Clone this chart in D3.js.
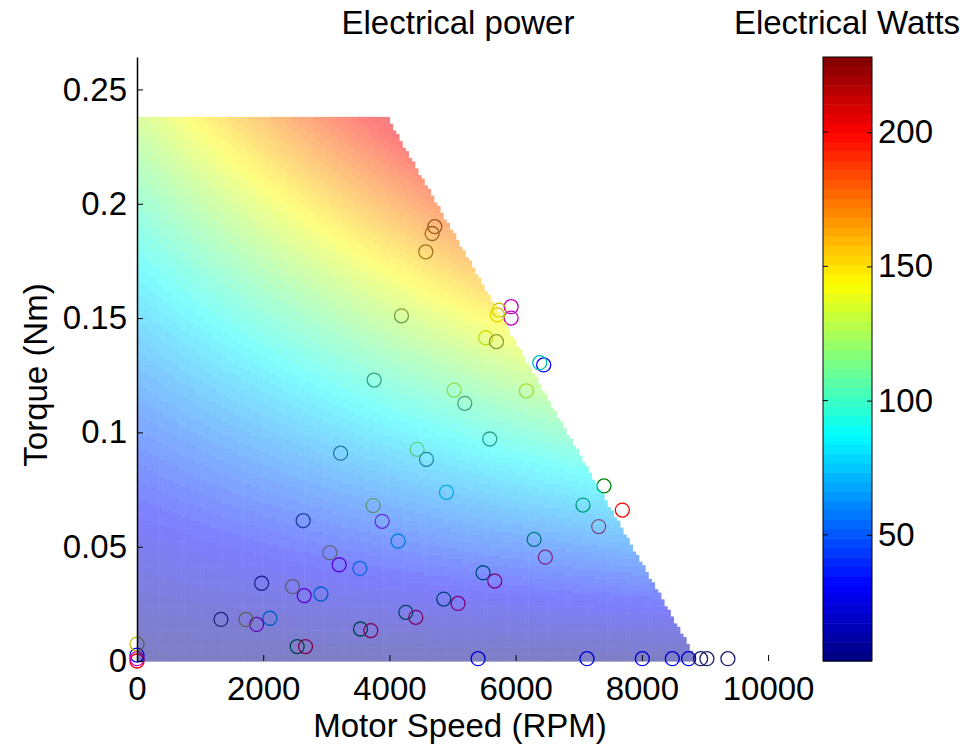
<!DOCTYPE html>
<html>
<head>
<meta charset="utf-8">
<script src="https://cdnjs.cloudflare.com/ajax/libs/d3/7.8.5/d3.min.js"></script>
<style>
    body { margin: 0; background: #fff; }
    svg text { font-family: "Liberation Sans", Arial, sans-serif; fill: #000; }
</style>
</head>
<body>
<div id="chart"></div>
<script>

// measured operating points, one pair of arrays per plotted series
const blueSpeed = [0, 5405, 7131, 8008, 8483, 8741, 6445];
const blueTorque = [0.0026, 0.001, 0.001, 0.001, 0.001, 0.001, 0.1295];

const greenSpeed = [2538, 3542, 4260, 4861, 5484, 6292, 7068, 7400];
const greenTorque = [0.0063, 0.0140, 0.0213, 0.0271, 0.0386, 0.0532, 0.0682, 0.0766];

const redSpeed = [0, 2671, 3705, 4418, 5088, 5669, 6471, 7316, 7691];
const redTorque = [0, 0.0063, 0.0133, 0.0191, 0.0252, 0.0350, 0.0454, 0.0588, 0.0660];

const cyanSpeed = [2106, 2914, 3531, 4138, 4904, 6382];
const cyanTorque = [0.0187, 0.0293, 0.0405, 0.0525, 0.0738, 0.1305];

const magentaSpeed = [0, 1895, 2650, 3204, 3885, 5929, 5929];
const magentaTorque = [0.0010, 0.0160, 0.0286, 0.0421, 0.0611, 0.1550, 0.1500];

const yellowSpeed = [0, 1726, 2465, 3056, 3742, 4439, 5025, 5527, 5711, 5738, 6171];
const yellowTorque = [0.0074, 0.0182, 0.0325, 0.0474, 0.0680, 0.0926, 0.1185, 0.1414, 0.1514, 0.1535, 0.1182];

const greySpeed = [1330, 1975, 2633, 3226, 3758, 4587, 5194, 5590, 4191, 5696, 4577, 4677, 4719];
const greyTorque = [0.0182, 0.0340, 0.0614, 0.0909, 0.1229, 0.0882, 0.1127, 0.0971, 0.1510, 0.1397, 0.1790, 0.1870, 0.1900];

const darkSpeed = [8931, 9031, 9364];
const darkTorque = [0.001, 0.001, 0.001];

// MATLAB default line colour order (+ a dark series)
const seriesColors = ["#0000ff", "#008000", "#ff0000", "#00bfbf", "#bf00bf", "#bfbf00", "#404040", "#1c1c6a"];

// motor envelope and electrical power model used for the surface
const maxTorque = 0.238;
const cornerSpeed = 3960;
const freeSpeed = 8880;
const idleWatts = 5;
const torqueWatts = 370;
const torqueSqWatts = 600;
const speedTorqueWatts = 0.084;

// axis ticks
const xTicks = [0, 2000, 4000, 6000, 8000, 10000];
const yTicks = [0, 0.05, 0.1, 0.15, 0.2, 0.25];
const cbarTicks = [50, 100, 150, 200];
const cbarRange = [3, 228];

const width = 974, height = 746;
const svg = d3.select("#chart").append("svg")
    .attr("width", width)
    .attr("height", height);

const x = d3.scaleLinear().domain([0, 10500]).range([137, 799.6]);
const y = d3.scaleLinear().domain([0, 0.2642]).range([661, 57]);
const cScale = d3.scaleLinear().domain(cbarRange).range([661, 57]);

// jet colormap, 64 levels like MATLAB
function jet(t) {
    let clamp = v => Math.max(0, Math.min(1, v));
    return d3.rgb(255 * clamp(1.5 - Math.abs(4 * t - 3)),
                  255 * clamp(1.5 - Math.abs(4 * t - 2)),
                  255 * clamp(1.5 - Math.abs(4 * t - 1)));
}
function jetIndex(v) {
    let k = Math.floor((v - cbarRange[0]) / (cbarRange[1] - cbarRange[0]) * 64);
    k = Math.max(0, Math.min(63, k));
    return jet((k + 0.5) / 64).formatHex();
}

function torqueLimit(s) {
    if (s <= cornerSpeed) return maxTorque;
    return maxTorque * (freeSpeed - s) / (freeSpeed - cornerSpeed);
}

function power(s, t) {
    return idleWatts + torqueWatts * t + torqueSqWatts * t * t + speedTorqueWatts * t * s;
}

// points, drawn first so the translucent surface sits above them
let series = [
    [blueSpeed, blueTorque], [greenSpeed, greenTorque], [redSpeed, redTorque],
    [cyanSpeed, cyanTorque], [magentaSpeed, magentaTorque], [yellowSpeed, yellowTorque],
    [greySpeed, greyTorque], [darkSpeed, darkTorque]
];
let points = [];
series.forEach(function (sr, i) {
    sr[0].forEach(function (s, j) {
        points.push({speed: s, torque: sr[1][j], color: seriesColors[i]});
    });
});

svg.append("g").selectAll("circle")
    .data(points)
    .enter().append("circle")
    .attr("cx", d => x(d.speed))
    .attr("cy", d => y(d.torque))
    .attr("r", 7)
    .attr("fill", "none")
    .attr("stroke", d => d.color)
    .attr("stroke-width", 1.3);

// surface cells
const speedStep = 50;
const nRows = 159;
const torqueStep = maxTorque / nRows;
let cells = [];
for (let s = 0; s < freeSpeed; s += speedStep) {
    for (let r = 0; r < nRows; r++) {
        let t = r * torqueStep;
        let sc = s + speedStep / 2, tc = t + torqueStep / 2;
        if (tc <= torqueLimit(sc)) {
            cells.push({s: s, t: t, v: power(sc, tc)});
        }
    }
}

const cw = x(speedStep) - x(0);
const ch = y(0) - y(torqueStep);
svg.append("g")
    .attr("opacity", 0.5)
    .selectAll("rect")
    .data(cells)
    .enter().append("rect")
    .attr("x", d => x(d.s))
    .attr("y", d => y(d.t + torqueStep))
    .attr("width", cw + 0.6)
    .attr("height", ch + 0.6)
    .attr("fill", d => jetIndex(d.v));

// axes
const xAxis = d3.axisBottom(x)
    .tickValues(xTicks)
    .tickFormat(d3.format("d"))
    .tickSizeInner(-6)
    .tickSizeOuter(0)
    .tickPadding(16);
let gx = svg.append("g").attr("transform", "translate(0,661)").call(xAxis);
gx.select(".domain").remove();

const yAxis = d3.axisLeft(y)
    .tickValues(yTicks)
    .tickFormat(d => d === 0 ? "0" : String(+d.toFixed(2)))
    .tickSizeInner(-6)
    .tickSizeOuter(0)
    .tickPadding(10);
let gy = svg.append("g").attr("transform", "translate(137,0)").call(yAxis);
gy.select(".domain").attr("stroke-width", 1.5);

[gx, gy].forEach(function (g) {
    g.selectAll("text").attr("font-size", 33).attr("font-family", "Liberation Sans, Arial, sans-serif");
    g.selectAll(".tick line").attr("stroke", "#000");
});

// axis titles
svg.append("text")
    .attr("x", 458).attr("y", 34)
    .attr("text-anchor", "middle")
    .attr("font-size", 33)
    .text("Electrical power");

svg.append("text")
    .attr("x", 460).attr("y", 737)
    .attr("text-anchor", "middle")
    .attr("font-size", 33)
    .text("Motor Speed (RPM)");

svg.append("text")
    .attr("transform", "translate(47,375) rotate(-90)")
    .attr("text-anchor", "middle")
    .attr("font-size", 33)
    .text("Torque (Nm)");

// colorbar
const cbX = 823, cbW = 49;
const levels = d3.range(64);
const levelH = (cbarRange[1] - cbarRange[0]) / 64;
svg.append("g").selectAll("rect")
    .data(levels)
    .enter().append("rect")
    .attr("x", cbX)
    .attr("y", d => cScale(cbarRange[0] + (d + 1) * levelH))
    .attr("width", cbW)
    .attr("height", cScale(cbarRange[0]) - cScale(cbarRange[0] + levelH) + 0.5)
    .attr("fill", d => jet((d + 0.5) / 64).formatHex());

svg.append("rect")
    .attr("x", cbX).attr("y", 57)
    .attr("width", cbW).attr("height", 604)
    .attr("fill", "none")
    .attr("stroke", "#000")
    .attr("stroke-width", 1);

const cAxis = d3.axisRight(cScale)
    .tickValues(cbarTicks)
    .tickSizeInner(-5)
    .tickSizeOuter(0)
    .tickPadding(6);
let gc = svg.append("g").attr("transform", "translate(" + (cbX + cbW) + ",0)").call(cAxis);
gc.select(".domain").remove();
gc.selectAll("text").attr("font-size", 33).attr("font-family", "Liberation Sans, Arial, sans-serif");

svg.append("g").selectAll("line")
    .data(cbarTicks)
    .enter().append("line")
    .attr("x1", cbX).attr("x2", cbX + 5)
    .attr("y1", d => cScale(d)).attr("y2", d => cScale(d))
    .attr("stroke", "#000");

svg.append("text")
    .attr("x", 847).attr("y", 34)
    .attr("text-anchor", "middle")
    .attr("font-size", 33)
    .text("Electrical Watts");

</script>
</body>
</html>
